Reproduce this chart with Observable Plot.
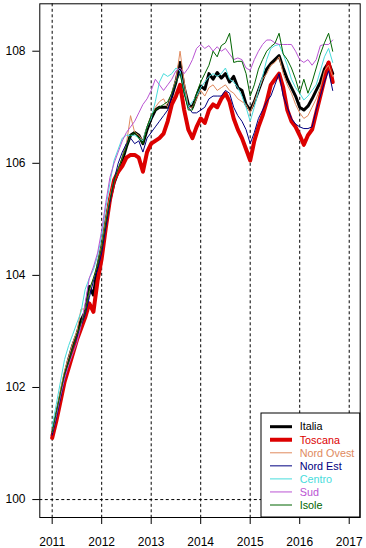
<!DOCTYPE html>
<html>
<head>
<meta charset="utf-8">
<script src="https://cdn.jsdelivr.net/npm/d3@7"></script>
<script src="https://cdn.jsdelivr.net/npm/@observablehq/plot@0.6"></script>
<style>
  html, body { margin: 0; padding: 0; background: #fff; }
  #chart { width: 366px; height: 548px; }
</style>
</head>
<body>
<div id="chart"></div>
<script>
// Monthly series starting January 2011 (index 0) through September 2016
const startYear = 2011;
const years = [2011, 2012, 2013, 2014, 2015, 2016, 2017];
const yTicks = [100, 102, 104, 106, 108];

const italia = [101.15,101.50,101.85,102.20,102.50,102.75,102.95,103.20,103.35,103.80,103.65,104.15,
  104.50,104.95,105.35,105.65,105.85,106.05,106.30,106.50,106.55,106.50,106.35,106.60,
  106.80,106.95,107.00,107.00,107.00,107.20,107.45,107.80,107.35,107.05,107.00,107.20,
  107.38,107.32,107.60,107.50,107.62,107.52,107.60,107.45,107.55,107.35,107.30,107.05,
  106.95,107.10,107.30,107.50,107.68,107.78,107.85,107.92,107.70,107.50,107.35,107.20,
  107.00,106.95,107.02,107.15,107.30,107.45,107.68,107.80,107.60];

const toscana = [101.10,101.40,101.75,102.10,102.35,102.60,102.85,103.05,103.25,103.50,103.35,103.90,
  104.30,104.85,105.35,105.70,105.85,105.95,106.10,106.15,106.15,106.10,105.85,106.20,
  106.35,106.40,106.45,106.53,106.75,107.05,107.20,107.40,106.95,106.60,106.45,106.65,
  106.80,106.72,106.95,107.05,107.00,107.15,107.25,107.10,106.80,106.60,106.45,106.25,
  106.05,106.40,106.65,106.85,107.10,107.40,107.50,107.60,107.35,106.95,106.75,106.65,
  106.50,106.33,106.50,106.60,106.90,107.20,107.50,107.80,107.45];

const nordOvest = [101.20,101.55,101.95,102.30,102.55,102.80,103.00,103.40,103.40,103.70,103.95,104.20,
  104.55,105.00,105.40,105.70,105.90,106.10,106.35,106.85,106.55,106.50,106.40,106.65,
  106.85,107.00,107.10,107.15,107.00,107.25,107.50,108.00,107.45,107.00,107.00,107.15,
  107.30,107.20,107.35,107.40,107.30,107.35,107.40,107.30,107.25,107.15,107.10,107.05,
  106.90,107.10,107.30,107.50,107.60,107.75,107.80,107.90,107.60,107.40,107.25,107.05,
  106.90,106.80,106.85,107.00,107.15,107.35,107.65,107.75,107.55];

const nordEst = [101.15,101.45,101.80,102.15,102.45,102.70,102.90,103.10,103.30,103.60,103.90,104.10,
  104.40,104.85,105.30,105.70,106.00,106.20,106.35,106.45,106.35,106.40,106.20,106.45,
  106.55,106.65,106.75,106.85,106.95,107.20,107.45,107.65,107.25,107.00,106.90,106.90,
  106.95,107.00,107.15,107.20,107.20,107.20,107.30,107.25,107.00,106.85,106.75,106.60,
  106.35,106.55,106.80,106.95,107.10,107.20,107.40,107.60,107.20,107.00,106.80,106.70,
  106.65,106.62,106.62,106.65,106.95,107.20,107.45,107.65,107.30];

const centro = [101.30,101.70,102.10,102.50,102.75,102.95,103.15,103.35,103.75,103.95,104.10,104.35,
  104.70,105.20,105.65,106.05,106.25,106.45,106.50,106.50,106.50,106.45,106.40,106.65,
  106.80,107.10,107.45,107.60,107.55,107.60,107.70,107.65,107.30,107.00,107.10,107.20,
  107.35,107.45,107.55,107.60,107.55,107.60,107.70,107.50,107.45,107.35,107.20,107.00,
  106.75,107.00,107.30,107.55,107.85,108.05,108.10,108.12,107.95,107.75,107.50,107.35,
  107.25,107.13,107.20,107.30,107.40,107.65,107.90,108.05,107.80];

const sud = [101.20,101.50,101.85,102.15,102.40,102.60,102.80,103.10,103.50,103.95,104.15,104.40,
  104.80,105.30,105.75,106.00,106.20,106.40,106.55,106.65,106.75,106.90,107.05,107.15,
  107.30,107.50,107.40,107.30,107.40,107.50,107.65,107.70,107.60,107.70,107.85,108.05,
  108.12,108.05,108.10,108.00,108.08,108.00,108.05,107.95,107.85,107.88,107.85,107.70,
  107.66,107.85,108.00,108.12,108.20,108.20,108.15,108.12,108.12,108.12,108.12,108.00,
  107.85,107.80,107.85,107.75,107.85,108.10,108.12,108.12,108.20];

const isole = [101.20,101.55,101.90,102.25,102.45,102.70,102.95,103.15,103.35,103.75,103.95,104.20,
  104.50,104.95,105.35,105.70,105.90,106.10,106.30,106.50,106.55,106.45,106.35,106.65,
  106.85,106.95,107.00,107.05,107.10,107.25,107.45,107.60,107.25,106.95,106.95,107.25,
  107.45,107.60,107.75,108.00,107.90,108.10,108.15,108.32,107.80,107.82,107.82,107.60,
  107.20,107.40,107.68,107.85,108.00,108.08,108.14,108.32,107.95,107.85,107.70,107.50,
  107.25,107.50,107.25,107.45,107.70,107.95,108.15,108.32,108.00];

const seriesNames = ["Italia", "Toscana", "Nord Ovest", "Nord Est", "Centro", "Sud", "Isole"];
const seriesValues = [italia, toscana, nordOvest, nordEst, centro, sud, isole];
const seriesColors = ["#000000", "#dc0000", "#e08a5e", "#000080", "#48dcdc", "#ba55d3", "#006400"];
const seriesWidths = [3, 4, 1, 1, 1, 1, 1];

const W = 366, H = 548;
const mL = 39.3, mR = 6.3, mT = 3.3, mB = 31;

const lineMarks = seriesNames.map((name, k) => {
  const rows = seriesValues[k].map((v, i) => ({t: startYear + i / 12, v}));
  return Plot.line(rows, {
    x: "t", y: "v",
    stroke: seriesColors[k],
    strokeWidth: seriesWidths[k],
    strokeLinejoin: "round",
    strokeLinecap: "round"
  });
});

const chart = Plot.plot({
  width: W,
  height: H,
  marginLeft: mL,
  marginRight: mR,
  marginTop: mT,
  marginBottom: mB,
  style: {fontFamily: "'Liberation Sans', Arial, sans-serif", fontSize: "12px", background: "#fff", color: "#000"},
  x: {domain: [2010.75, 2017.222]},
  y: {domain: [99.68, 108.846]},
  marks: [
    Plot.ruleX(years, {stroke: "#000", strokeWidth: 1, strokeDasharray: "3,2.5"}),
    Plot.ruleY([100], {stroke: "#000", strokeWidth: 1, strokeDasharray: "3,2.5"}),
    ...lineMarks,
    Plot.frame({stroke: "#000", strokeWidth: 1}),
    Plot.axisY({ticks: yTicks, tickSize: 7, tickPadding: 7.3, tickFormat: d => String(d), label: null, fontSize: 12, stroke: "#000"}),
    Plot.axisX({ticks: years, tickSize: 7, tickPadding: 12.5, tickFormat: d => String(d), label: null, fontSize: 12, stroke: "#000"})
  ]
});

// Legend inside the plot area, bottom-right corner
const svg = d3.select(chart);
const lgW = 98.7, lgH = 104;
const lgX = W - mR - lgW, lgY = H - mB - lgH;
const lg = svg.append("g").attr("transform", `translate(${lgX},${lgY})`)
  .attr("text-anchor", "start");
lg.append("rect").attr("width", lgW).attr("height", lgH)
  .attr("fill", "#fff").attr("stroke", "#000").attr("stroke-width", 1);
seriesNames.forEach((name, k) => {
  const yy = 13.7 + 13.05 * k;
  lg.append("line").attr("x1", 9).attr("x2", 31).attr("y1", yy).attr("y2", yy)
    .attr("stroke", seriesColors[k]).attr("stroke-width", seriesWidths[k]);
  lg.append("text").attr("x", 38.7).attr("y", yy).attr("dy", "0.35em")
    .attr("text-anchor", "start")
    .attr("fill", seriesColors[k])
    .style("font-family", "'Liberation Sans', Arial, sans-serif")
    .style("font-size", "10.8px")
    .text(name);
});

document.getElementById("chart").appendChild(chart);
</script>
</body>
</html>
